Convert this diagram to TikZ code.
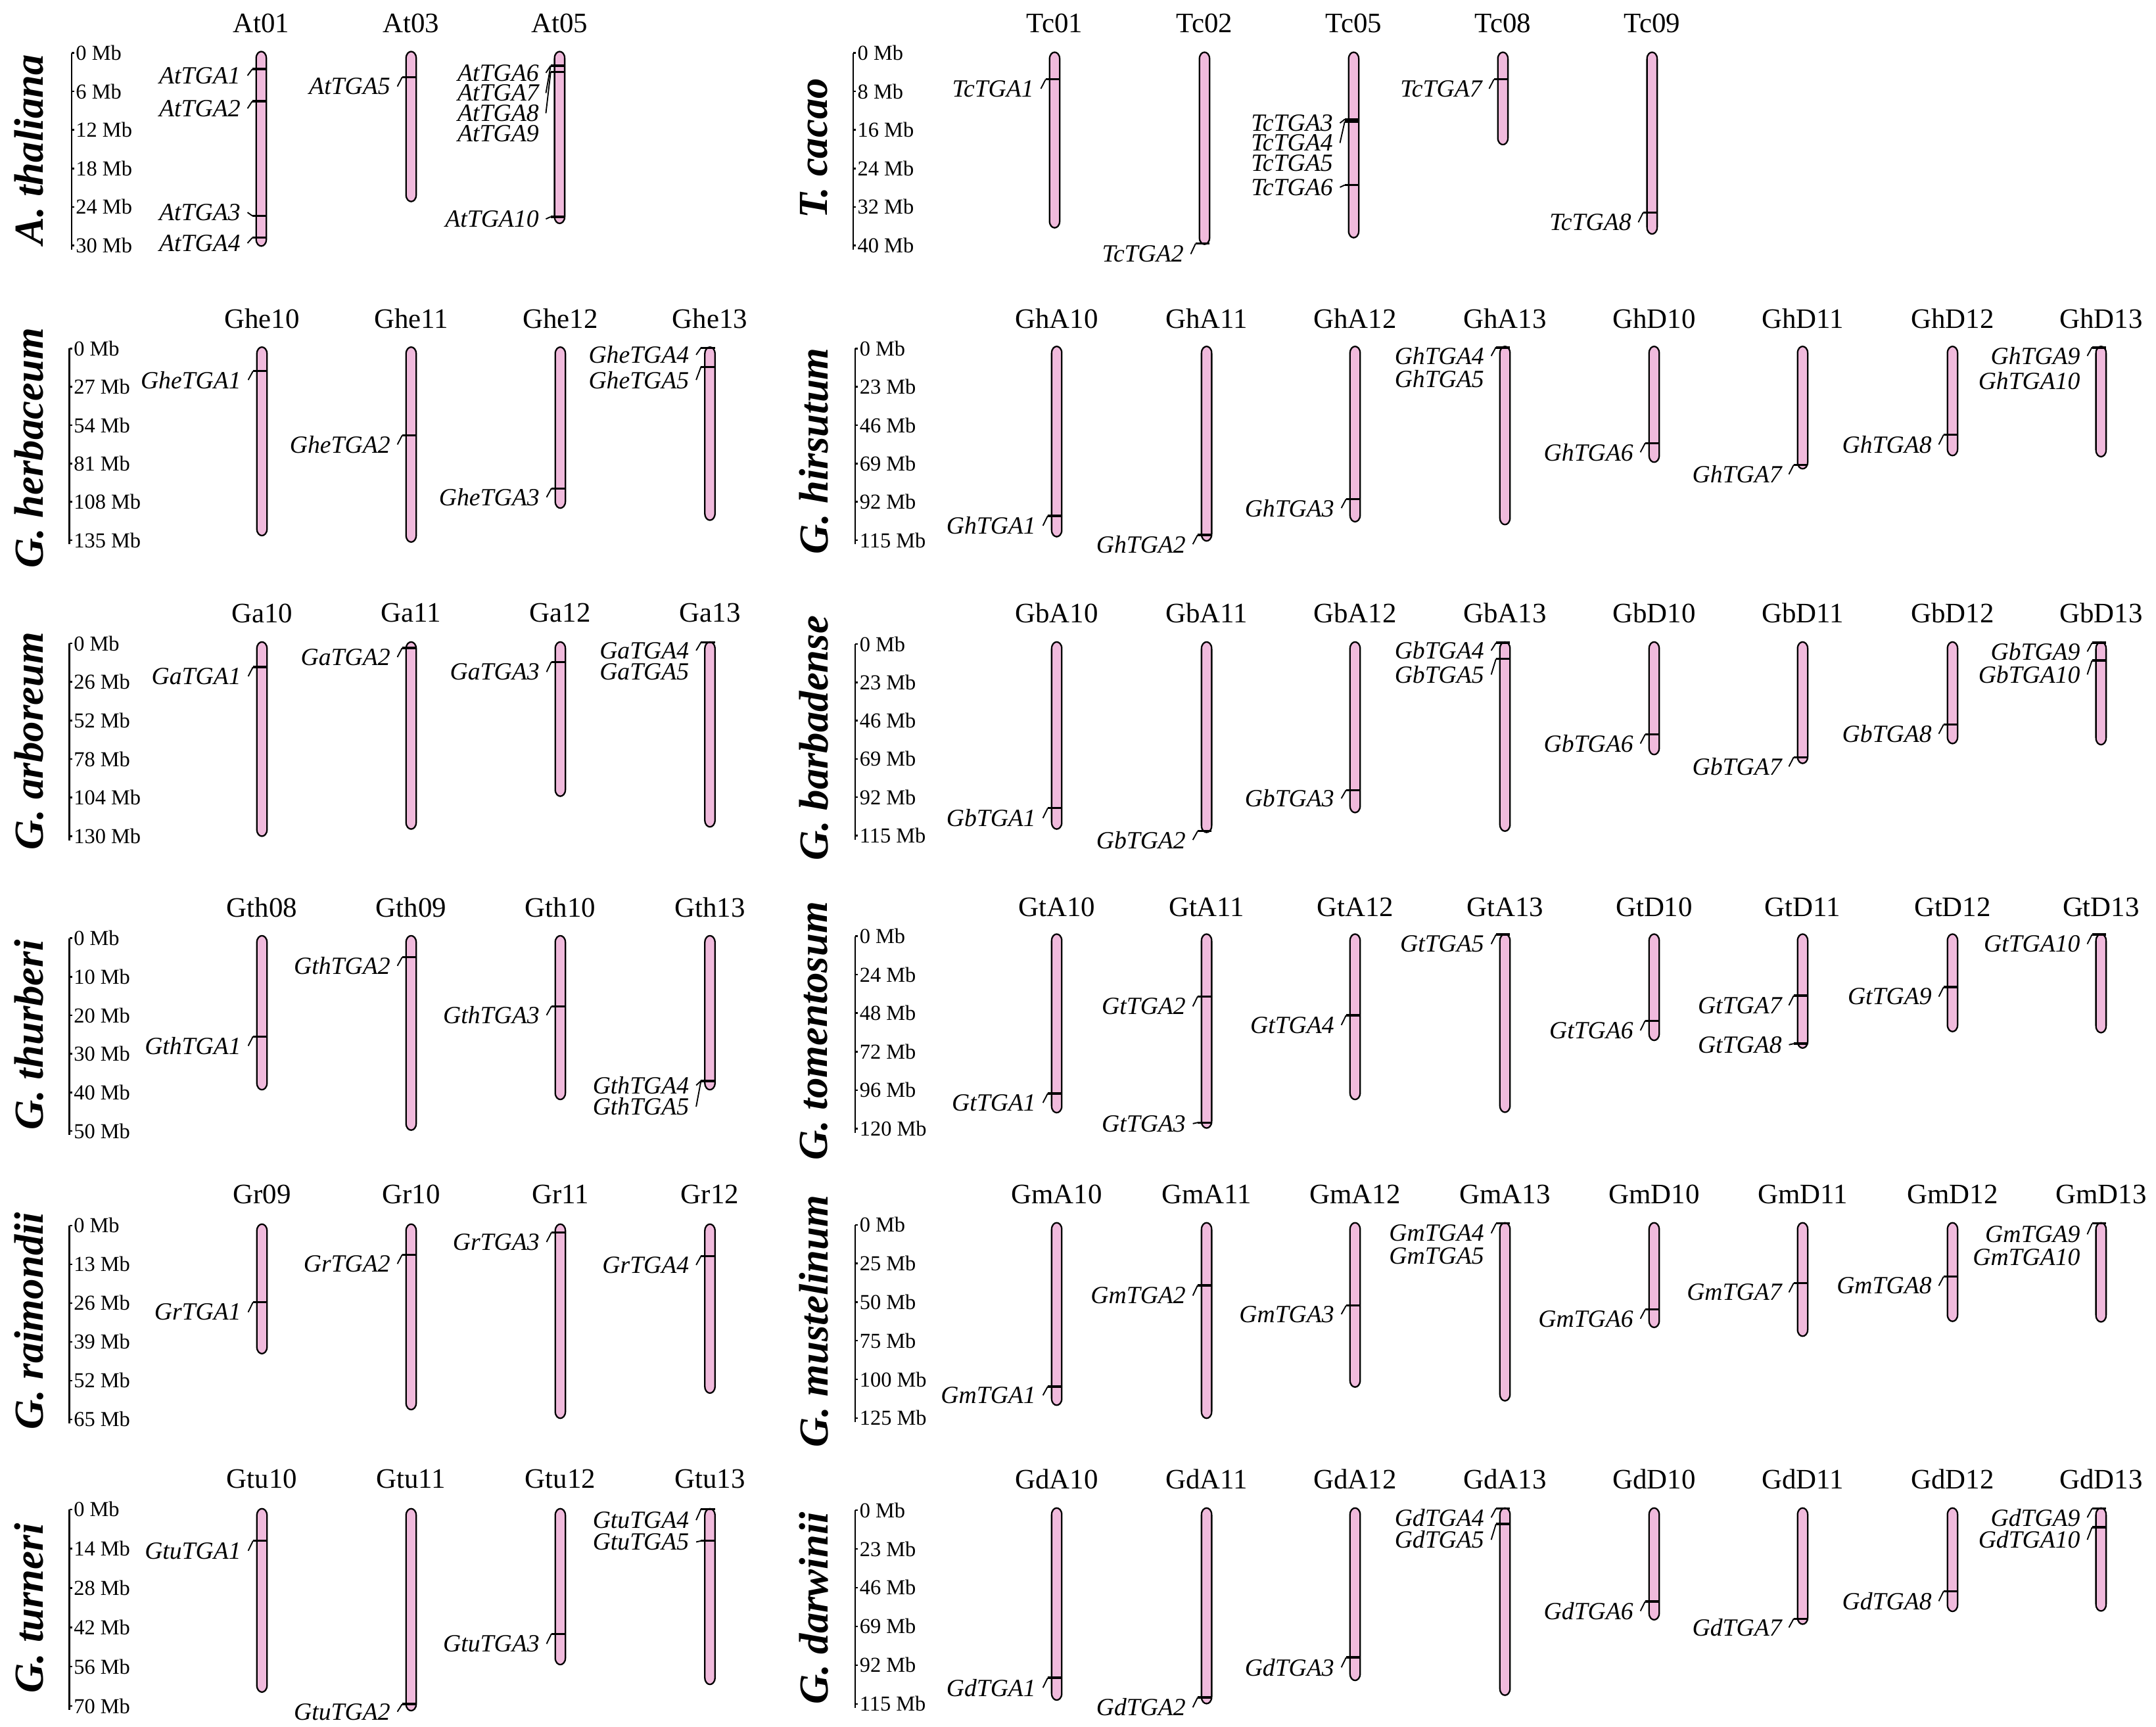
\documentclass[tikz,border=0pt]{standalone}
\usepackage{fontspec}
\setmainfont{Liberation Serif}
\usepackage{tikz}
\definecolor{chrpink}{RGB}{240,186,220}

% chromosome: x, top, bottom, name (label on the row line \ly)
\newcommand{\ly}{17}
\newcommand{\chrom}[4]{%
  \draw[chromo] (#1-3.7,#2+5) .. controls (#1-3.7,#2+1.5) and (#1-1.6,#2) .. (#1,#2)
    .. controls (#1+1.6,#2) and (#1+3.7,#2+1.5) .. (#1+3.7,#2+5)
    -- (#1+3.7,#3-5) .. controls (#1+3.7,#3-1.5) and (#1+1.6,#3) .. (#1,#3)
    .. controls (#1-1.6,#3) and (#1-3.7,#3-1.5) .. (#1-3.7,#3-5) -- cycle;
  \node[chrlabel] (#4) at (#1,\ly) {#4};}
% gene: chromosome x, marker y, label y, name
\newcommand{\gene}[4]{%
  \node[genelabel] (#4) at (#1-10,#3) {#4};
  \draw[marker] (#1+3.7,#2) -- (#1-6.5,#2);
  \draw[link] (#1-6.5,#2) -- (#4.east);}
% gene whose link is hidden under its neighbour
\newcommand{\genetext}[4]{%
  \node[genelabel] (#4) at (#1-10,#3) {#4};
  \draw[marker] (#1+3.7,#2) -- (#1-6.5,#2);}
% scale bar: name, x, top, tick spacing, values
\newcommand{\mbaxis}[5]{%
  \foreach \v [count=\k from 0] in {#5} {
    \draw[axisline] (#2,#3+\k*#4) -- ++(2,0);
    \node[ticklabel] (#1-\k) at (#2+2.5,#3+\k*#4) {\v~Mb};
  }
  \draw[axisline] (#2,#3) -- (#2,#3+5*#4+3);}

\begin{document}
\begin{tikzpicture}[x=1pt,y=-1pt,
  chromo/.style={draw=black,line width=1.1pt,fill=chrpink},
  chrlabel/.style={font=\fontsize{20.5}{22}\selectfont,inner sep=0pt},
  genelabel/.style={font=\fontsize{18}{20}\selectfont\itshape,anchor=east,inner xsep=5pt,inner ysep=0pt},
  marker/.style={line width=1.6pt},
  link/.style={line width=0.9pt},
  axisline/.style={line width=1.2pt},
  ticklabel/.style={font=\fontsize{15.5}{17}\selectfont,anchor=west,inner sep=0.5pt},
  species/.style={font=\fontsize{30}{32}\selectfont\bfseries\itshape,rotate=90,inner sep=0pt}]
\useasboundingbox (0,0) rectangle (1568,1256);

% ---- row 1
\renewcommand{\ly}{17}
\node[species] (athal) at (21,109) {A.\ thaliana};
\mbaxis{ax1}{52}{38.5}{28}{0,6,12,18,24,30}
\chrom{190}{37.5}{179}{At01}
\chrom{299}{37.5}{146.6}{At03}
\chrom{407}{37.5}{162.5}{At05}
\gene{190}{50.2}{55}{AtTGA1}
\gene{190}{73.6}{78.9}{AtTGA2}
\gene{190}{157}{154.5}{AtTGA3}
\gene{190}{172.9}{176.9}{AtTGA4}
\gene{299}{56.1}{62.9}{AtTGA5}
\gene{407}{47.8}{53}{AtTGA6}
\gene{407}{47.8}{67.7}{AtTGA7}
\gene{407}{52.3}{82.4}{AtTGA8}
\genetext{407}{52.3}{97}{AtTGA9}
\gene{407}{157.7}{159.3}{AtTGA10}

\node[species] (tcac) at (592,108) {T.\ cacao};
\mbaxis{ax2}{620.5}{38.5}{28}{0,8,16,24,32,40}
\chrom{767}{38}{165.7}{Tc01}
\chrom{876}{38}{177.7}{Tc02}
\chrom{984.5}{38}{172.9}{Tc05}
\chrom{1093}{38}{105.2}{Tc08}
\chrom{1201.5}{38}{170.2}{Tc09}
\gene{767}{57.7}{64.5}{TcTGA1}
\gene{876}{177.2}{184.8}{TcTGA2}
\gene{984.5}{86.8}{89.5}{TcTGA3}
\gene{984.5}{88.4}{104}{TcTGA4}
\genetext{984.5}{88.4}{118.5}{TcTGA5}
\gene{984.5}{134.6}{136.2}{TcTGA6}
\gene{1093}{57.7}{64.5}{TcTGA7}
\gene{1201.5}{154.6}{161.7}{TcTGA8}

% ---- row 2
\renewcommand{\ly}{232}
\node[species] (gherb) at (21,326) {G.\ herbaceum};
\mbaxis{ax3}{50.5}{253.5}{27.9}{0,27,54,81,108,135}
\chrom{190.5}{252.5}{389.6}{Ghe10}
\chrom{299}{252.5}{394.3}{Ghe11}
\chrom{407.5}{252.5}{369.6}{Ghe12}
\chrom{516.3}{252.5}{378.4}{Ghe13}
\gene{190.5}{270}{276.4}{GheTGA1}
\gene{299}{316.7}{323.4}{GheTGA2}
\gene{407.5}{355.3}{361.7}{GheTGA3}
\gene{516.3}{253}{258.1}{GheTGA4}
\gene{516.3}{266.9}{276.4}{GheTGA5}

\node[species] (ghirs) at (592,328) {G.\ hirsutum};
\mbaxis{ax4}{622}{253.5}{27.9}{0,23,46,69,92,115}
\chrom{768.5}{252}{390.4}{GhA10}
\chrom{877.5}{252}{393.5}{GhA11}
\chrom{985.5}{252}{379.5}{GhA12}
\chrom{1094.5}{252}{381.6}{GhA13}
\chrom{1203}{252}{336.2}{GhD10}
\chrom{1311}{252}{341}{GhD11}
\chrom{1420}{252}{331.4}{GhD12}
\chrom{1528}{252}{332.2}{GhD13}
\gene{768.5}{375.2}{382.4}{GhTGA1}
\gene{877.5}{389.1}{395.9}{GhTGA2}
\gene{985.5}{363}{369.6}{GhTGA3}
\gene{1094.5}{252.5}{258.9}{GhTGA4}
\genetext{1094.5}{253}{275.6}{GhTGA5}
\gene{1203}{322.3}{329}{GhTGA6}
\gene{1311}{338.2}{345}{GhTGA7}
\gene{1420}{316.3}{323.4}{GhTGA8}
\gene{1528}{252.5}{258.9}{GhTGA9}
\genetext{1528}{253}{276.9}{GhTGA10}

% ---- row 3
\renewcommand{\ly}{446}
\node[species] (garb) at (21,539) {G.\ arboreum};
\mbaxis{ax5}{50.5}{468}{28.05}{0,26,52,78,104,130}
\chrom{190.5}{467}{608.3}{Ga10}
\chrom{299}{467}{603.1}{Ga11}
\chrom{407.5}{467}{579.2}{Ga12}
\chrom{516.3}{467}{601.5}{Ga13}
\gene{190.5}{485.2}{492}{GaTGA1}
\gene{299}{471.3}{478}{GaTGA2}
\gene{407.5}{481.5}{488.8}{GaTGA3}
\gene{516.3}{467.3}{473.2}{GaTGA4}
\genetext{516.3}{467.3}{488.8}{GaTGA5}

\node[species] (gbarb) at (592,537) {G.\ barbadense};
\mbaxis{ax6}{622}{468.5}{27.85}{0,23,46,69,92,115}
\chrom{768.5}{467}{603.1}{GbA10}
\chrom{877.5}{467}{605.5}{GbA11}
\chrom{985.5}{467}{591.1}{GbA12}
\chrom{1094.5}{467}{604.6}{GbA13}
\chrom{1203}{467}{548.9}{GbD10}
\chrom{1311}{467}{555.3}{GbD11}
\chrom{1420}{467}{540.9}{GbD12}
\chrom{1528}{467}{541.7}{GbD13}
\gene{768.5}{587.9}{595.1}{GbTGA1}
\gene{877.5}{604.6}{611}{GbTGA2}
\gene{985.5}{574.7}{580.8}{GbTGA3}
\gene{1094.5}{467.6}{473.2}{GbTGA4}
\gene{1094.5}{479.3}{490.7}{GbTGA5}
\gene{1203}{534.2}{540.9}{GbTGA6}
\gene{1311}{550.8}{557.6}{GbTGA7}
\gene{1420}{527.1}{533.8}{GbTGA8}
\gene{1528}{467.6}{474}{GbTGA9}
\gene{1528}{480.4}{490.7}{GbTGA10}

% ---- row 4
\renewcommand{\ly}{660}
\node[species] (gthur) at (21,753) {G.\ thurberi};
\mbaxis{ax7}{50.5}{682.5}{28.05}{0,10,20,30,40,50}
\chrom{190.5}{680.7}{792.7}{Gth08}
\chrom{299}{680.7}{822.1}{Gth09}
\chrom{407.5}{680.7}{799.8}{Gth10}
\chrom{516.3}{680.7}{792.7}{Gth13}
\gene{190.5}{754}{760.8}{GthTGA1}
\gene{299}{696.3}{702.6}{GthTGA2}
\gene{407.5}{732.1}{738.5}{GthTGA3}
\gene{516.3}{786.3}{789.5}{GthTGA4}
\gene{516.3}{786.3}{805}{GthTGA5}

\node[species] (gtom) at (592,750) {G.\ tomentosum};
\mbaxis{ax8}{622}{681}{28}{0,24,48,72,96,120}
\chrom{768.5}{679.5}{809.4}{GtA10}
\chrom{877.5}{679.5}{820.6}{GtA11}
\chrom{985.5}{679.5}{799.8}{GtA12}
\chrom{1094.5}{679.5}{809.1}{GtA13}
\chrom{1203}{679.5}{756.8}{GtD10}
\chrom{1311}{679.5}{762.4}{GtD11}
\chrom{1420}{679.5}{750.4}{GtD12}
\chrom{1528}{679.5}{751.2}{GtD13}
\gene{768.5}{795.4}{802.2}{GtTGA1}
\gene{877.5}{724.9}{732.1}{GtTGA2}
\gene{877.5}{816.6}{817.4}{GtTGA3}
\gene{985.5}{738.5}{745.7}{GtTGA4}
\gene{1094.5}{679.8}{686.7}{GtTGA5}
\gene{1203}{742.5}{749.6}{GtTGA6}
\gene{1311}{724.2}{731.3}{GtTGA7}
\gene{1311}{759.2}{760}{GtTGA8}
\gene{1420}{718.1}{725}{GtTGA9}
\gene{1528}{679.8}{686.7}{GtTGA10}

% ---- row 5
\renewcommand{\ly}{869}
\node[species] (graim) at (21,961) {G.\ raimondii};
\mbaxis{ax9}{50.5}{891.5}{28.2}{0,13,26,39,52,65}
\chrom{190.5}{890.5}{984.7}{Gr09}
\chrom{299}{890.5}{1025.4}{Gr10}
\chrom{407.5}{890.5}{1031.7}{Gr11}
\chrom{516.3}{890.5}{1013.4}{Gr12}
\gene{190.5}{947.3}{954.5}{GrTGA1}
\gene{299}{912.7}{919.4}{GrTGA2}
\gene{407.5}{896.6}{903.5}{GrTGA3}
\gene{516.3}{913.8}{920.2}{GrTGA4}

\node[species] (gmust) at (592,961) {G.\ mustelinum};
\mbaxis{ax10}{622}{891}{28.1}{0,25,50,75,100,125}
\chrom{768.5}{889.5}{1022.2}{GmA10}
\chrom{877.5}{889.5}{1031.7}{GmA11}
\chrom{985.5}{889.5}{1009}{GmA12}
\chrom{1094.5}{889.5}{1019}{GmA13}
\chrom{1203}{889.5}{965.6}{GmD10}
\chrom{1311}{889.5}{972}{GmD11}
\chrom{1420}{889.5}{961.2}{GmD12}
\chrom{1528}{889.5}{961.6}{GmD13}
\gene{768.5}{1008.6}{1015}{GmTGA1}
\gene{877.5}{935}{942.5}{GmTGA2}
\gene{985.5}{949.7}{956}{GmTGA3}
\gene{1094.5}{890}{897.1}{GmTGA4}
\genetext{1094.5}{890}{913.8}{GmTGA5}
\gene{1203}{952.6}{959.3}{GmTGA6}
\gene{1311}{933.4}{940.1}{GmTGA7}
\gene{1420}{928.7}{935.3}{GmTGA8}
\gene{1528}{890}{897.9}{GmTGA9}
\genetext{1528}{890}{914.6}{GmTGA10}

% ---- row 6
\renewcommand{\ly}{1076}
\node[species] (gturn) at (21,1170) {G.\ turneri};
\mbaxis{ax11}{50.5}{1098}{28.6}{0,14,28,42,56,70}
\chrom{190.5}{1097.5}{1230.9}{Gtu10}
\chrom{299}{1097.5}{1244.4}{Gtu11}
\chrom{407.5}{1097.5}{1210.9}{Gtu12}
\chrom{516.3}{1097.5}{1225.3}{Gtu13}
\gene{190.5}{1120.9}{1128.1}{GtuTGA1}
\gene{299}{1239.6}{1245.2}{GtuTGA2}
\gene{407.5}{1188.6}{1195.8}{GtuTGA3}
\gene{516.3}{1097.8}{1105.8}{GtuTGA4}
\gene{516.3}{1120.9}{1121.7}{GtuTGA5}

\node[species] (gdarw) at (592,1170) {G.\ darwinii};
\mbaxis{ax12}{622}{1098.5}{28.2}{0,23,46,69,92,115}
\chrom{768.5}{1097}{1236.7}{GdA10}
\chrom{877.5}{1097}{1239.3}{GdA11}
\chrom{985.5}{1097}{1222.4}{GdA12}
\chrom{1094.5}{1097}{1233.2}{GdA13}
\chrom{1203}{1097}{1178.3}{GdD10}
\chrom{1311}{1097}{1181.5}{GdD11}
\chrom{1420}{1097}{1172.2}{GdD12}
\chrom{1528}{1097}{1171.9}{GdD13}
\gene{768.5}{1220.5}{1227.7}{GdTGA1}
\gene{877.5}{1234.8}{1242}{GdTGA2}
\gene{985.5}{1205.7}{1212.9}{GdTGA3}
\gene{1094.5}{1097.3}{1103.9}{GdTGA4}
\gene{1094.5}{1108.6}{1120.1}{GdTGA5}
\gene{1203}{1165}{1171.9}{GdTGA6}
\gene{1311}{1177.5}{1183.9}{GdTGA7}
\gene{1420}{1157.6}{1164.7}{GdTGA8}
\gene{1528}{1097.3}{1103.9}{GdTGA9}
\gene{1528}{1110.9}{1120.1}{GdTGA10}
\end{tikzpicture}
\end{document}
